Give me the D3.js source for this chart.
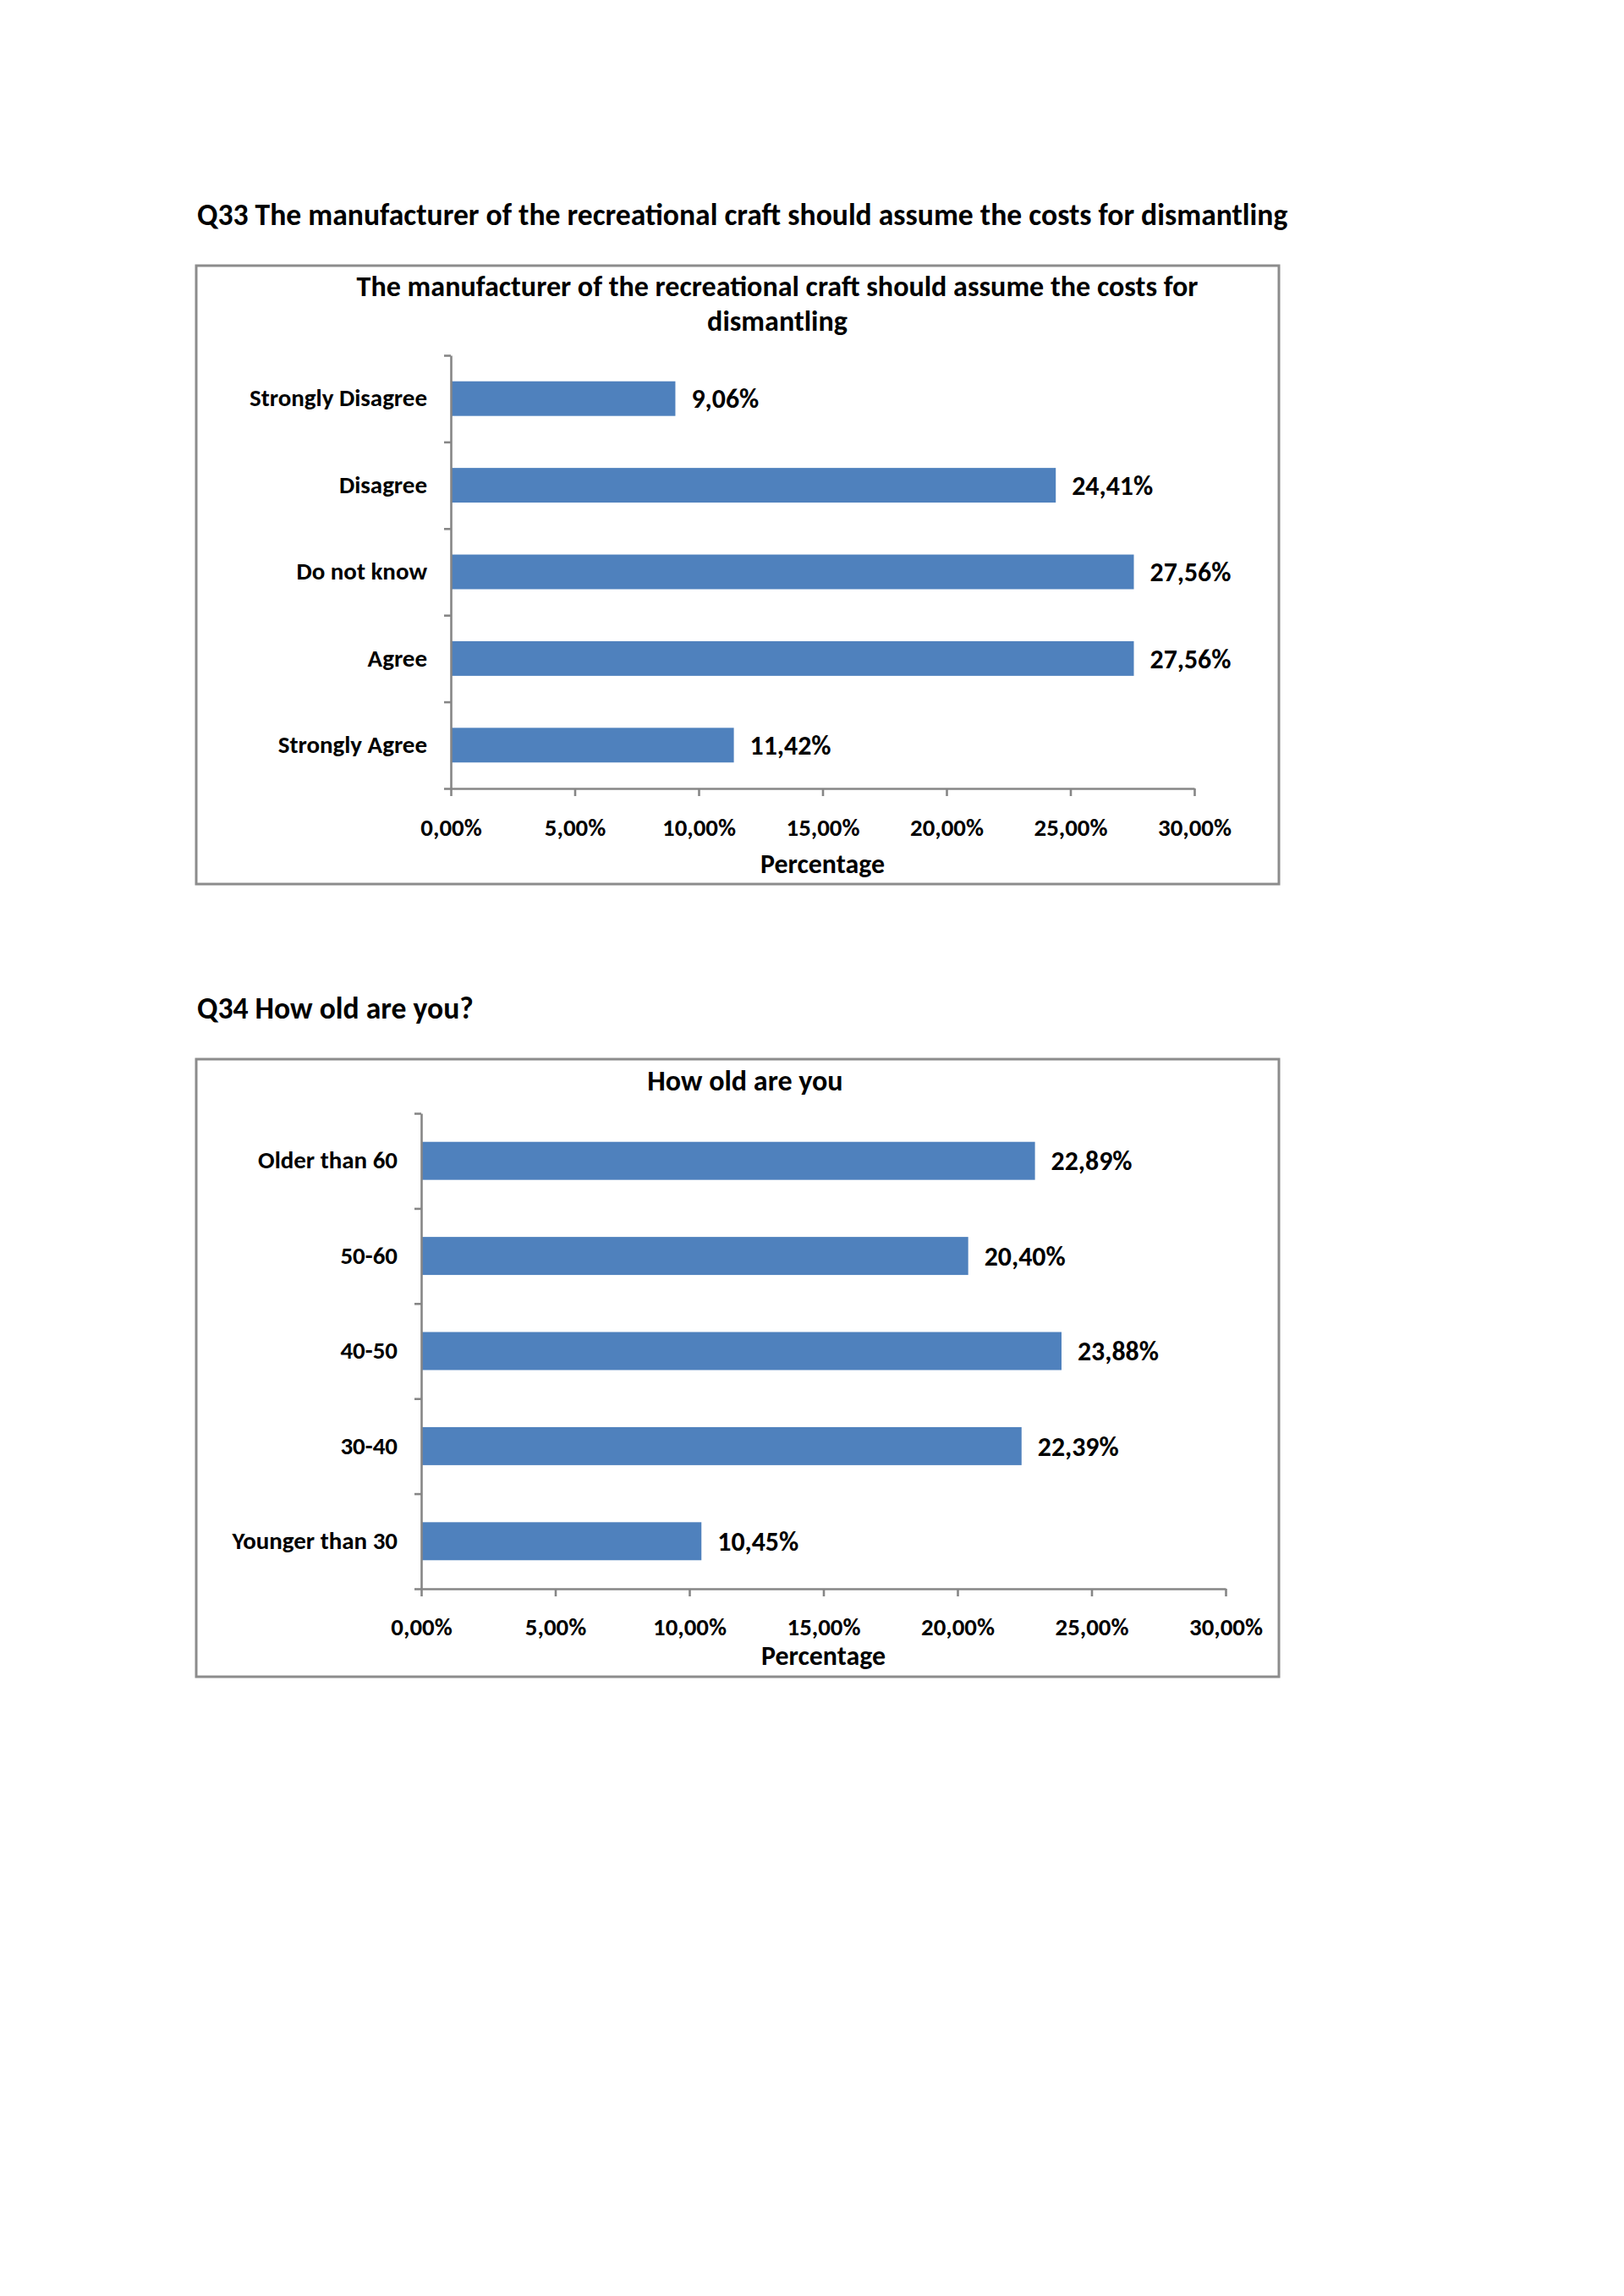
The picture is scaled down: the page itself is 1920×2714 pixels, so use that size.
<!DOCTYPE html>
<html>
<head>
<meta charset="utf-8">
<script src="https://cdn.jsdelivr.net/npm/d3@7/dist/d3.min.js"></script>
<style>
  html, body { margin: 0; padding: 0; background: #ffffff; }
  svg { display: block; }
  text { font-family: Carlito, Calibri, Lato, "Open Sans", sans-serif; font-weight: bold; fill: #000; }
</style>
</head>
<body>
<svg id="page" width="1920" height="2714"></svg>
<script>
// ---------- data ----------
const q33Heading = "Q33 The manufacturer of the recreational craft should assume the costs for dismantling";
const q33TitleLines = ["The manufacturer of the recreational craft should assume the costs for", "dismantling"];
const q33Categories = ["Strongly Disagree", "Disagree", "Do not know", "Agree", "Strongly Agree"];
const q33Values = [9.06, 24.41, 27.56, 27.56, 11.42];
const q33ValueLabels = ["9,06%", "24,41%", "27,56%", "27,56%", "11,42%"];

const q34Heading = "Q34 How old are you?";
const q34TitleLines = ["How old are you"];
const q34Categories = ["Older than 60", "50-60", "40-50", "30-40", "Younger than 30"];
const q34Values = [22.89, 20.40, 23.88, 22.39, 10.45];
const q34ValueLabels = ["22,89%", "20,40%", "23,88%", "22,39%", "10,45%"];

const xTicks = [0, 5, 10, 15, 20, 25, 30];
const xTickLabels = ["0,00%", "5,00%", "10,00%", "15,00%", "20,00%", "25,00%", "30,00%"];
const xAxisTitle = "Percentage";

// ---------- helpers ----------
const svg = d3.select("#page");
const BAR = "#4f81bd";
const AXIS = "#868686";

function fitSize(str, targetWidth) {
  const t = svg.append("text").attr("font-size", 100).text(str);
  const w = t.node().getComputedTextLength();
  t.remove();
  return 100 * targetWidth / w;
}

const headingSize = fitSize(q33Heading, 1290);
const titleSize = fitSize(q33TitleLines[0], 995);
const catSize = fitSize("Strongly Disagree", 210);
const valSize = fitSize("27,56%", 96);
const tickSize = fitSize("30,00%", 87);
const axTitleSize = fitSize(xAxisTitle, 147);

function drawChart(cfg) {
  // heading above the box
  svg.append("text")
    .attr("x", 233).attr("y", cfg.headingY)
    .attr("font-size", headingSize)
    .text(cfg.heading);

  // chart frame
  svg.append("rect")
    .attr("x", cfg.box[0]).attr("y", cfg.box[1])
    .attr("width", cfg.box[2] - cfg.box[0]).attr("height", cfg.box[3] - cfg.box[1])
    .attr("fill", "#fff").attr("stroke", "#8c8c8c").attr("stroke-width", 3);

  // title
  const title = svg.append("text")
    .attr("text-anchor", "middle")
    .attr("font-size", titleSize);
  cfg.titleLines.forEach((ln, i) => {
    title.append("tspan").attr("x", cfg.titleX).attr("y", cfg.titleY + i * 41).text(ln);
  });

  const x = d3.scaleLinear().domain([0, 30]).range([cfg.x0, cfg.x1]);
  const y = d3.scaleBand().domain(cfg.categories).range([cfg.yTop, cfg.yBot]).padding(0);
  const step = y.step();
  const barH = step * 0.4;

  // bars
  svg.append("g").selectAll("rect")
    .data(cfg.categories)
    .join("rect")
    .attr("x", x(0))
    .attr("y", d => y(d) + (step - barH) / 2)
    .attr("width", (d, i) => x(cfg.values[i]) - x(0))
    .attr("height", barH)
    .attr("fill", BAR);

  // value labels
  svg.append("g").selectAll("text")
    .data(cfg.categories)
    .join("text")
    .attr("x", (d, i) => x(cfg.values[i]) + 19)
    .attr("y", d => y(d) + step / 2)
    .attr("dy", "0.35em")
    .attr("font-size", valSize)
    .text((d, i) => cfg.valueLabels[i]);

  // category labels
  const yLab = d3.axisLeft(y).tickSize(0).tickPadding(28);
  const gl = svg.append("g").attr("transform", `translate(${x(0)},0)`).call(yLab);
  gl.select(".domain").remove();
  gl.selectAll("text").attr("font-size", catSize).attr("font-family", null).attr("fill", "#000");

  // y axis line with ticks at band boundaries
  const yIdx = d3.scaleLinear().domain([0, cfg.categories.length]).range([cfg.yTop, cfg.yBot]);
  const yAx = d3.axisLeft(yIdx).tickValues(d3.range(0, cfg.categories.length + 1)).tickSize(8).tickSizeOuter(0).tickFormat("");
  const gy = svg.append("g").attr("transform", `translate(${x(0)},0)`).call(yAx);
  gy.selectAll("path, line").attr("stroke", AXIS).attr("stroke-width", 2.6);

  // x axis
  const xAx = d3.axisBottom(x).tickValues(xTicks).tickSize(9).tickSizeOuter(0)
    .tickFormat((d, i) => xTickLabels[i]).tickPadding(cfg.tickPad);
  const gx = svg.append("g").attr("transform", `translate(0,${cfg.yBot})`).call(xAx);
  gx.selectAll("path, line").attr("stroke", AXIS).attr("stroke-width", 2.6);
  gx.selectAll("text").attr("font-size", tickSize).attr("font-family", null).attr("fill", "#000");

  // axis title
  svg.append("text")
    .attr("x", (cfg.x0 + cfg.x1) / 2).attr("y", cfg.axTitleY)
    .attr("text-anchor", "middle")
    .attr("font-size", axTitleSize)
    .text(xAxisTitle);
}

drawChart({
  heading: q33Heading, headingY: 266,
  box: [232, 314, 1512, 1045],
  titleLines: q33TitleLines, titleX: 919, titleY: 350,
  categories: q33Categories, values: q33Values, valueLabels: q33ValueLabels,
  x0: 533, x1: 1412, yTop: 420, yBot: 932,
  tickPad: 27, axTitleY: 1032
});

drawChart({
  heading: q34Heading, headingY: 1204,
  box: [232, 1252, 1512, 1982],
  titleLines: q34TitleLines, titleX: 881, titleY: 1289,
  categories: q34Categories, values: q34Values, valueLabels: q34ValueLabels,
  x0: 498, x1: 1449, yTop: 1316, yBot: 1878,
  tickPad: 26, axTitleY: 1968
});
</script>
</body>
</html>
